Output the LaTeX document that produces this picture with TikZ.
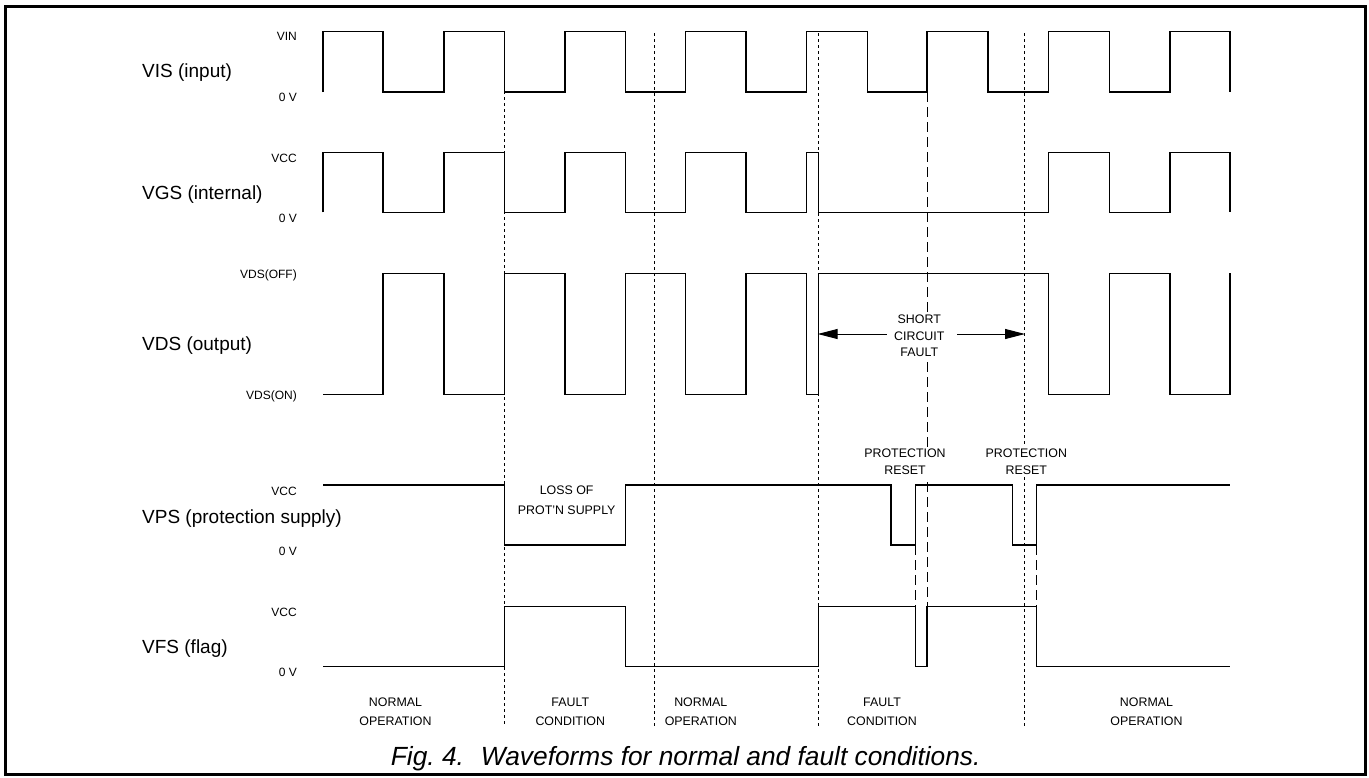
\documentclass[tikz,border=0pt]{standalone}
\usepackage{fontspec}
\setmainfont{Liberation Sans}
\usetikzlibrary{arrows.meta}
\begin{document}
\begin{tikzpicture}[x=1pt,y=-1pt,
  wave/.style={line width=1.2pt, black, line join=miter},
  dotline/.style={line width=1pt, dash pattern=on 3pt off 3pt},
  dashline/.style={line width=1pt, dash pattern=on 10pt off 5pt},
  sig/.style={anchor=base west, font=\fontsize{19}{22}\selectfont, inner sep=0pt},
  lvl/.style={anchor=base east, font=\fontsize{12}{14}\selectfont, inner sep=0pt},
  note/.style={align=center, inner sep=0pt},
  notebg/.style={align=center, inner sep=2pt, fill=white},
  arr/.style={line width=1pt, -{Triangle[length=20pt,width=10pt]}},
]
\useasboundingbox (0,0) rectangle (1369,777);
\draw[line width=3pt] (5.8,6.7) rectangle (1365,774.5);

% dotted section boundaries
\coordinate (d1t) at (504.3,31.3);  \coordinate (d1b) at (504.3,726.7);
\coordinate (d2t) at (654.7,33);    \coordinate (d2b) at (654.7,726.7);
\coordinate (d3t) at (818.7,33);    \coordinate (d3b) at (818.7,726.7);
\coordinate (d4t) at (1024.7,33);   \coordinate (d4b) at (1024.7,726.7);
\draw[dotline] (d1t) -- (d1b);
\draw[dotline] (d2t) -- (d2b);
\draw[dotline] (d3t) -- (d3b);
\draw[dotline] (d4t) -- (d4b);

% long-dashed lines
\coordinate (k1t) at (927,92);     \coordinate (k1b) at (927,606.7);
\coordinate (k2t) at (915.7,545);  \coordinate (k2b) at (915.7,606.7);
\coordinate (k3t) at (1036.3,545); \coordinate (k3b) at (1036.3,606.7);
\draw[dashline] (k1t) -- (k1b);
\draw[dashline] (k2t) -- (k2b);
\draw[dashline] (k3t) -- (k3b);

% signal names
\node[sig] (nvis) at (142,77) {VIS (input)};
\node[sig] (nvgs) at (142,199.3) {VGS (internal)};
\node[sig] (nvds) at (142,350) {VDS (output)};
\node[sig] (nvps) at (142,523.3) {VPS (protection supply)};
\node[sig] (nvfs) at (142,653.3) {VFS (flag)};

% level labels
\node[lvl] (l1) at (297,40.7) {VIN};
\node[lvl] (l2) at (297,101.7) {0 V};
\node[lvl] (l3) at (297,162.3) {VCC};
\node[lvl] (l4) at (297,222.7) {0 V};
\node[lvl] (l5) at (297,278.7) {VDS(OFF)};
\node[lvl] (l6) at (297,399.7) {VDS(ON)};
\node[lvl] (l7) at (297,495) {VCC};
\node[lvl] (l8) at (297,555) {0 V};
\node[lvl] (l9) at (297,616) {VCC};
\node[lvl] (l10) at (297,676.7) {0 V};

% annotations
\node[notebg, font=\fontsize{12.4}{16.3}\selectfont] (sc) at (919.3,335.9) {SHORT\\CIRCUIT\\FAULT};
\node[notebg, font=\fontsize{12.4}{17}\selectfont] (pr1) at (905,462.2) {PROTECTION\\RESET};
\node[notebg, font=\fontsize{12.4}{17}\selectfont] (pr2) at (1026.3,462.2) {PROTECTION\\RESET};
\node[note, font=\fontsize{12.4}{19.3}\selectfont] (loss) at (566.7,500.2) {LOSS OF\\PROT'N SUPPLY};

\coordinate (scL) at (886.7,334); \coordinate (scLt) at (817.7,334);
\coordinate (scR) at (957,334);   \coordinate (scRt) at (1025,334);
\draw[arr] (scL) -- (scLt);
\draw[arr] (scR) -- (scRt);

% bottom region labels
\node[note, font=\fontsize{12.4}{18.7}\selectfont] (r1) at (395.5,711.7) {NORMAL\\OPERATION};
\node[note, font=\fontsize{12.4}{18.7}\selectfont] (r2) at (570.3,711.7) {FAULT\\CONDITION};
\node[note, font=\fontsize{12.4}{18.7}\selectfont] (r3) at (700.8,711.7) {NORMAL\\OPERATION};
\node[note, font=\fontsize{12.4}{18.7}\selectfont] (r4) at (882,711.7) {FAULT\\CONDITION};
\node[note, font=\fontsize{12.4}{18.7}\selectfont] (r5) at (1146.5,711.7) {NORMAL\\OPERATION};

% caption
\node[anchor=base west, inner sep=0pt, font=\fontsize{26.3}{30}\selectfont\itshape] (cap) at (390.7,765)
  {Fig.~4.\hspace{17pt}Waveforms for normal and fault conditions.};

% waveforms
% VIS
\draw[wave] (323,92) |- (383,31.3) |- (444,92) |- (504.3,31.3) |- (565,92) |- (625.3,31.3)
  |- (685.7,92) |- (746,31.3) |- (806.7,92) |- (867.3,31.3) |- (927,92) |- (988,31.3)
  |- (1048.3,92) |- (1109.3,31.3) |- (1170,92) |- (1230,31.3) -- (1230,92);
% VGS
\draw[wave] (323,212.3) |- (383,152.3) |- (444,212.3) |- (504.3,152.3) |- (565,212.3)
  |- (625.3,152.3) |- (685.7,212.3) |- (746,152.3) |- (806.7,212.3) |- (818.7,152.3)
  |- (1048.3,212.3) |- (1109.3,152.3) |- (1170,212.3) |- (1230,152.3) -- (1230,212.3);
% VDS
\draw[wave] (323,394.7) -- (383,394.7) |- (444,273.3) |- (504.3,394.7) |- (565,273.3)
  |- (625.3,394.7) |- (685.7,273.3) |- (746,394.7) |- (806.7,273.3) |- (818.7,394.7)
  |- (1048.3,273.3) |- (1109.3,394.7) |- (1170,273.3) |- (1230,394.7) -- (1230,273.3);
% VPS
\draw[wave] (323,485) -- (504.3,485) |- (625.3,545) |- (891,485) |- (915.7,545)
  |- (1012.3,485) |- (1036.3,545) |- (1230,485);
% VFS
\draw[wave] (323,666.7) -- (504.3,666.7) |- (625.3,606.7) |- (818.7,666.7) |- (915.7,606.7)
  |- (927,666.7) |- (1036.3,606.7) |- (1230,666.7);
\end{tikzpicture}
\end{document}
